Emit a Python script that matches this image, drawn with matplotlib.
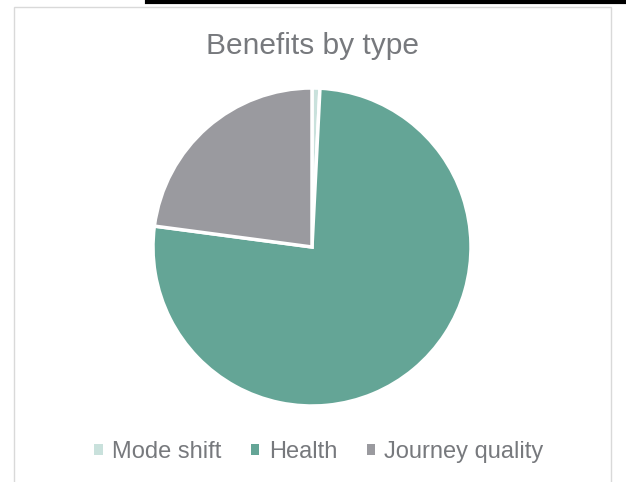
import matplotlib.pyplot as plt
from matplotlib.patches import Rectangle
from matplotlib.lines import Line2D

# data
labels = ['Mode shift', 'Health', 'Journey quality']
values = [0.8, 76.3, 22.9]
colors = ['#c9e1dc', '#64a596', '#9a9a9f']

plt.rcParams['font.family'] = ['Liberation Sans', 'DejaVu Sans']


def main() -> None:
    fig = plt.figure(figsize=(6.26, 4.82), dpi=100)

    # chart frame and the black line at the top
    fig.add_artist(Rectangle((14 / 626, -0.01), (611 - 14) / 626, 1 - 7 / 482 + 0.01,
                             transform=fig.transFigure, fill=False,
                             edgecolor='#d9d9d9', linewidth=1))
    fig.add_artist(Line2D([147 / 626, 1], [1 - 1.5 / 482, 1 - 1.5 / 482],
                          transform=fig.transFigure, color='black', linewidth=3))

    r = 159
    cx, cy = 312, 247
    ax = fig.add_axes([(cx - r) / 626, 1 - (cy + r) / 482, 2 * r / 626, 2 * r / 482])
    ax.pie(values, colors=colors, startangle=90, counterclock=False,
           wedgeprops=dict(edgecolor='white', linewidth=2.5))
    ax.set_aspect('auto')
    ax.set_xlim(-1, 1)
    ax.set_ylim(-1, 1)

    fig.text(cx / 626, 1 - 46 / 482, 'Benefits by type', ha='center', va='center',
             fontsize=21.5, color='#77797d')

    handles = [Rectangle((0, 0), 1, 1, facecolor=c) for c in colors]
    fig.legend(handles, labels, loc='center', bbox_to_anchor=(319 / 626, 1 - 452 / 482),
               ncol=3, frameon=False, fontsize=17, labelcolor='#77797d',
               handlelength=0.35, handleheight=0.35, handletextpad=0.4,
               columnspacing=1.25, borderpad=0)

    fig.savefig('out.png', dpi=100)


if __name__ == "__main__":
    main()
